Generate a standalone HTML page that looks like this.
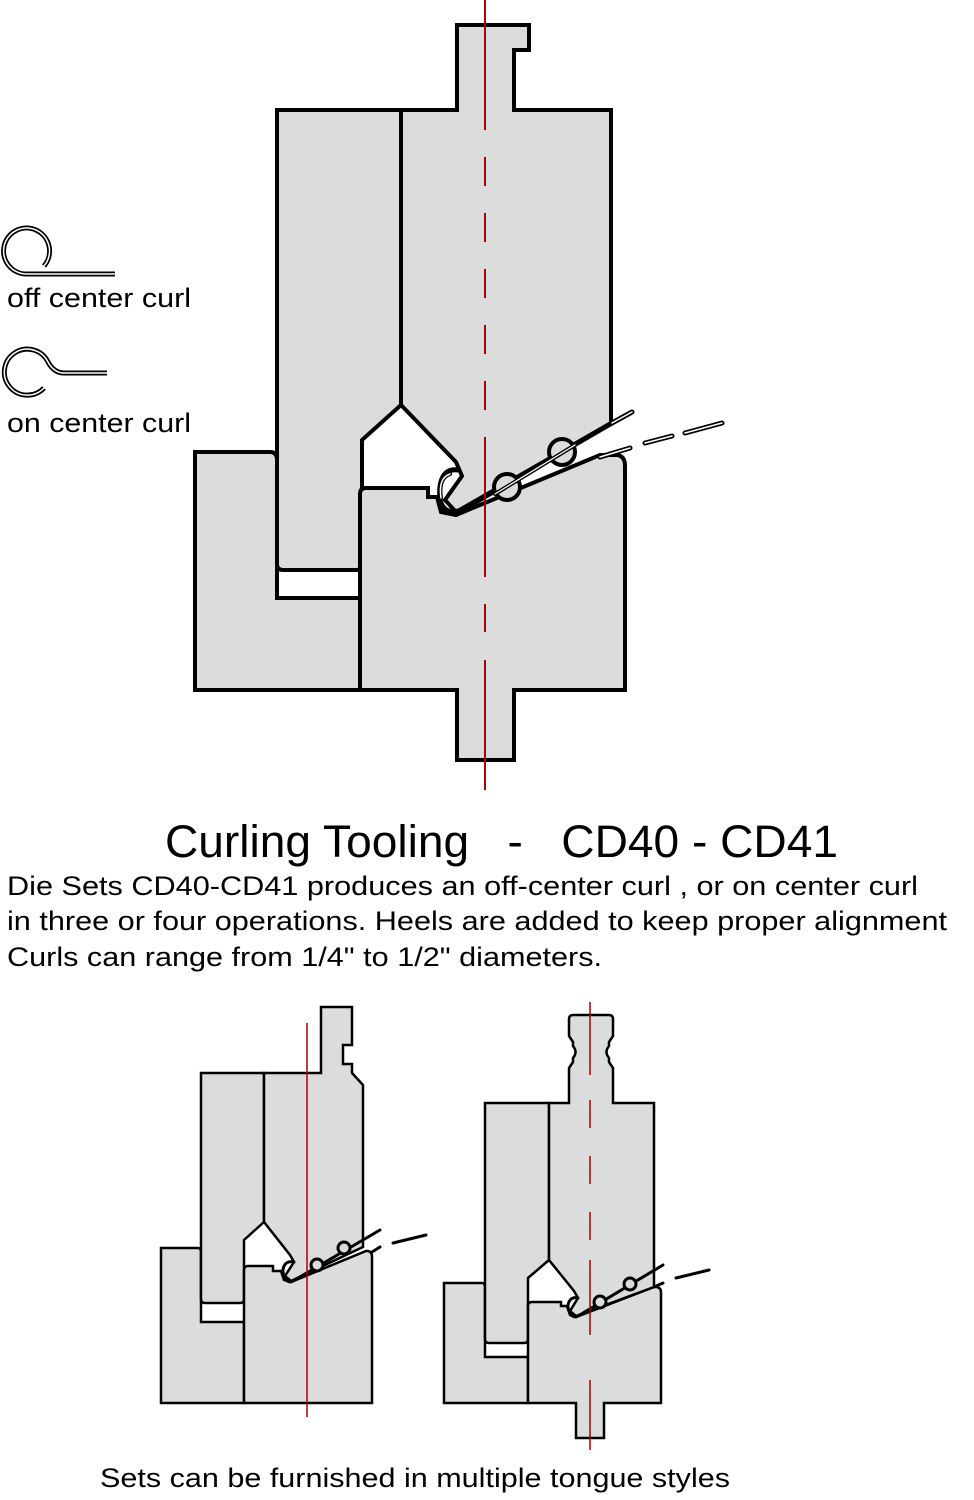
<!DOCTYPE html>
<html><head><meta charset="utf-8"><style>
html,body{margin:0;padding:0;background:#fff;}
svg{display:block;}
text{font-family:"Liberation Sans",sans-serif;fill:#000;}
</style></head><body>
<svg width="974" height="1500" viewBox="0 0 974 1500" xmlns="http://www.w3.org/2000/svg">
<g fill="#dcdcdc" stroke="#000" stroke-width="4" stroke-linejoin="miter">
<path d="M195,452 L270,452 Q277,452 277,460 L277,598 L360,598 L360,690 L195,690 Z"/>
<path d="M277,110 L401,110 L401,405 L362,440 L362,564 Q362,570 356,570 L283,570 Q277,570 277,564 Z"/>
<path d="M366,488 L428,488 L428,497 L437,497 L441,512 L456,515 L600,455 L617,455 Q625,456 625,466 L625,690 L514,690 L514,760 L457,760 L457,690 L360,690 L360,494 Q360,488 366,488 Z"/>
<path d="M401,110 L457,110 L457,25 L529,25 L529,50 L514,50 L514,110 L611,110 L611,423 L456,512 L445,500 L462,476 L456,462 L401,405 Z"/>
</g>
<g fill="none" stroke="#000" stroke-linecap="round">
<path d="M458,470 C444,468 438,480 440,500 Q444,516 462,510 L612,423" stroke-width="5"/>
<path d="M441,498 Q438,478 450,474" stroke-width="4"/>
<path d="M441,498 Q438,478 450,474" stroke="#fff" stroke-width="1.5"/>
<path d="M612,423 L632,412 M600,457 L630,448 M645,443 L672,436 M685,433 L722,423" stroke-width="5"/>
<path d="M612,423 L632,412 M600,457 L630,448 M645,443 L672,436 M685,433 L722,423" stroke="#fff" stroke-width="1.5"/>
<circle cx="507" cy="487" r="13" stroke-width="4" fill="#dcdcdc"/>
<circle cx="562" cy="452" r="13" stroke-width="4" fill="#dcdcdc"/>
<path d="M495,494 L575,445" stroke-width="4"/>
<path d="M495,494 L575,445" stroke="#fff" stroke-width="1.3"/>
</g>
<line x1="485" y1="0" x2="485" y2="130" stroke="#a00" stroke-width="2"/>
<line x1="485" y1="157" x2="485" y2="410" stroke="#a00" stroke-width="2" stroke-dasharray="29 27"/>
<line x1="485" y1="437" x2="485" y2="577" stroke="#a00" stroke-width="2"/>
<line x1="485" y1="604" x2="485" y2="632" stroke="#a00" stroke-width="2"/>
<line x1="485" y1="660" x2="485" y2="790" stroke="#a00" stroke-width="2"/>

<g fill="none" stroke="#000" stroke-width="5">
<path d="M44,266 A23,23 0 1 0 27,274 L115,274"/>
<path d="M44,388 A23,23 0 1 1 48,362 Q54,373 64,373 L107,373"/>
</g>
<g fill="none" stroke="#fff" stroke-width="1.5">
<path d="M44,266 A23,23 0 1 0 27,274 L115,274"/>
<path d="M44,388 A23,23 0 1 1 48,362 Q54,373 64,373 L107,373"/>
</g>
<text x="7" y="307" font-size="27" textLength="184" lengthAdjust="spacingAndGlyphs">off center curl</text>
<text x="7" y="432" font-size="27" textLength="184" lengthAdjust="spacingAndGlyphs">on center curl</text>

<text x="165" y="857" font-size="45" textLength="673" lengthAdjust="spacingAndGlyphs" xml:space="preserve">Curling Tooling   -   CD40 - CD41</text>
<text x="7" y="895" font-size="27" textLength="911" lengthAdjust="spacingAndGlyphs">Die Sets CD40-CD41 produces an off-center curl , or on center curl</text>
<text x="7" y="930" font-size="27" textLength="940" lengthAdjust="spacingAndGlyphs">in three or four operations. Heels are added to keep proper alignment</text>
<text x="7" y="966" font-size="27" textLength="595" lengthAdjust="spacingAndGlyphs">Curls can range from 1/4" to 1/2" diameters.</text>
<text x="100" y="1487" font-size="27" textLength="630" lengthAdjust="spacingAndGlyphs">Sets can be furnished in multiple tongue styles</text>

<!-- small left diagram -->
<g fill="#dcdcdc" stroke="#000" stroke-width="2.5">
<path d="M161,1248 L198,1248 Q201,1248 201,1252 L201,1322 L244,1322 L244,1403 L161,1403 Z"/>
<path d="M201,1073 L264,1073 L264,1222 L244,1240 L244,1299 Q244,1303 240,1303 L205,1303 Q201,1303 201,1299 Z"/>
<path d="M248,1266 L273,1266 L273,1271 L281,1271 L284,1280 L291,1282 L366,1251 L368,1251 Q372,1252 372,1256 L372,1403 L244,1403 L244,1270 Q244,1266 248,1266 Z"/>
<path d="M264,1073 L321,1073 L321,1007 L352,1007 L352,1045 L343,1045 L343,1064 L352,1064 L352,1073 L363,1085 L363,1247 L291,1281 L285,1276 L294,1262 L290,1255 L264,1222 Z"/>
</g>
<g fill="none" stroke="#000" stroke-width="3" stroke-linecap="round">
<path d="M294,1262 C285,1260 281,1268 284,1276 Q287,1284 293,1281 L380,1230"/>
<path d="M372,1252 L380,1247 M393,1243 L426,1235"/>
<circle cx="317" cy="1265" r="6" fill="#dcdcdc"/>
<circle cx="344" cy="1248" r="6" fill="#dcdcdc"/>
</g>
<line x1="307" y1="1023" x2="307" y2="1417" stroke="#a00" stroke-width="1.5"/>

<!-- small right diagram -->
<g fill="#dcdcdc" stroke="#000" stroke-width="2.5">
<path d="M444,1283 L482,1283 Q485,1283 485,1287 L485,1357 L528,1357 L528,1403 L444,1403 Z"/>
<path d="M485,1103 L549,1103 L549,1260 L528,1278 L528,1339 Q528,1343 524,1343 L489,1343 Q485,1343 485,1339 Z"/>
<path d="M532,1302 L561,1302 L561,1306 L567,1306 L570,1315 L576,1317 L654,1287 L657,1287 Q661,1288 661,1292 L661,1403 L604,1403 L604,1438 L576,1438 L576,1403 L528,1403 L528,1306 Q528,1302 532,1302 Z"/>
<path d="M549,1103 L569,1103 L569,1068 L573,1062 L573,1058 Q578,1052 573,1046 L573,1042 L569,1036 L569,1019 Q569,1015 573,1015 L609,1015 Q613,1015 613,1019 L613,1036 L609,1042 L609,1046 Q604,1052 609,1058 L609,1062 L613,1068 L613,1103 L654,1103 L654,1287 L576,1316 L570,1311 L578,1298 L574,1291 L549,1260 Z"/>
</g>
<g fill="none" stroke="#000" stroke-width="3" stroke-linecap="round">
<path d="M578,1298 C570,1296 566,1304 569,1311 Q572,1319 578,1316 L663,1265"/>
<path d="M654,1287 L663,1283 M676,1278 L709,1270"/>
<circle cx="600" cy="1302" r="6" fill="#dcdcdc"/>
<circle cx="630" cy="1284" r="6" fill="#dcdcdc"/>
</g>
<line x1="590" y1="1002" x2="590" y2="1075" stroke="#a00" stroke-width="1.5"/>
<line x1="590" y1="1100" x2="590" y2="1250" stroke="#a00" stroke-width="1.5" stroke-dasharray="28 28"/>
<line x1="590" y1="1260" x2="590" y2="1335" stroke="#a00" stroke-width="1.5"/>
<line x1="590" y1="1380" x2="590" y2="1450" stroke="#a00" stroke-width="1.5"/>
</svg>
</body></html>
